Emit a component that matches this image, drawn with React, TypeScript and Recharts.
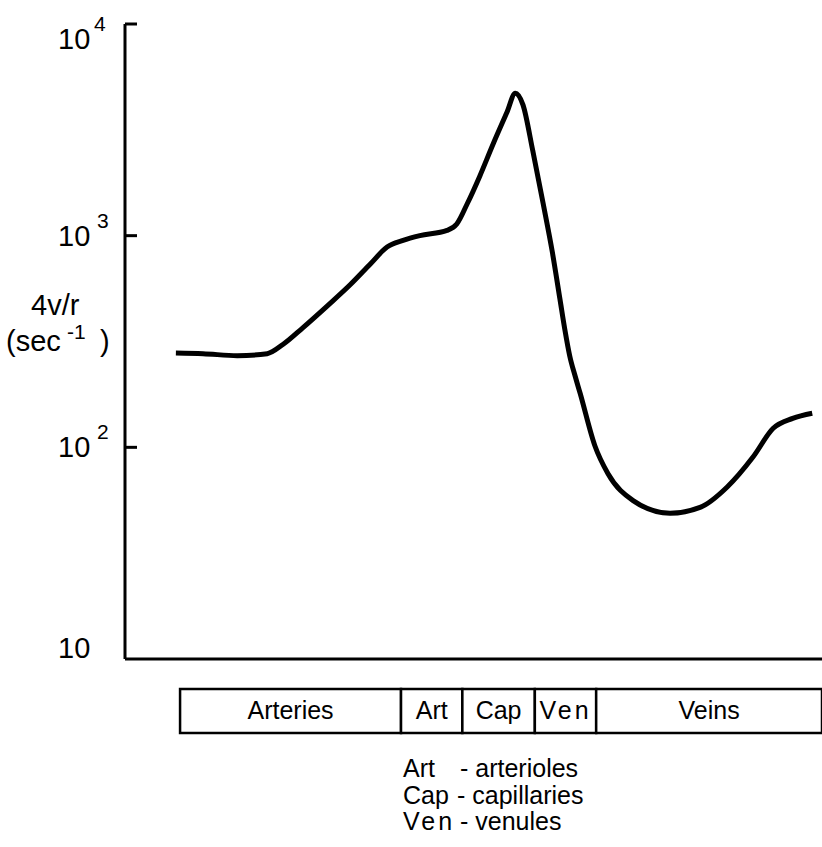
import React from "react";
import {
  LineChart,
  Line,
  XAxis,
  YAxis,
  BarChart,
  Bar,
} from "recharts";

// position along the vascular tree (0 = left axis, 100 = right edge)
const positions = [
  7.3, 11.2, 16.1, 20.4, 22.7, 25.5, 29.0, 32.3, 35.2, 37.6, 39.9, 42.3,
  46.2, 47.6, 49.1, 50.9, 52.8, 54.8, 56.0, 57.1, 58.5, 60.0, 61.3, 62.4,
  63.1, 63.8, 64.6, 65.3, 67.4, 69.3, 72.9, 78.2, 82.5, 86.4, 90.1, 93.0,
  95.8, 98.6,
];
// 4v/r, sec^-1
const rates = [
  279, 277, 271, 277, 307, 367, 465, 586, 735, 884, 950, 1000,
  1059, 1135, 1415, 1911, 2704, 3828, 4713, 4150, 2523, 1415, 840, 502,
  361, 271, 216, 180, 102, 75, 56, 48.8, 52, 65, 90, 123,
  137, 145,
];

const yTicks = [10, 100, 1000, 10000];

// vessel bands under the x axis
const segmentNames = ["", "Arteries", "Art", "Cap", "Ven", "Veins"];
const segmentEdges = [0, 7.9, 39.6, 48.4, 58.8, 67.6, 100];

const notes = [
  ["Art", "- arterioles"],
  ["Cap", "- capillaries"],
  ["Ven", "- venules"],
];

const data = positions.map((x, i) => ({ x, rate: rates[i] }));

const bandRow: Record<string, number | string> = { name: "band" };
segmentNames.forEach((_, i) => {
  bandRow["s" + i] = segmentEdges[i + 1] - segmentEdges[i];
});

const FONT = "'Liberation Sans', Arial, Helvetica, sans-serif";
const AXIS_X = 125;

const LogTick = (props: any) => {
  const { y, payload } = props;
  const v = payload.value;
  const exp = Math.round(Math.log10(v));
  const dy = v === 10000 ? 25 : v === 10 ? -1 : 10;
  const supX = v === 10000 ? 94 : 97;
  return (
    <g>
      {v !== 10 && (
        <line x1={AXIS_X} x2={AXIS_X + 12} y1={y} y2={y} stroke="#000" strokeWidth={3} />
      )}
      <text x={58} y={y + dy} fontSize={29} fill="#000" fontFamily={FONT}>
        10
        {exp > 1 && (
          <tspan x={supX} dy={-18} fontSize={21}>
            {exp}
          </tspan>
        )}
      </text>
    </g>
  );
};

const YTitle = () => (
  <g fontFamily={FONT} fill="#000">
    <text x={31} y={315} fontSize={29}>
      4v/r
    </text>
    <text x={6} y={351} fontSize={29}>
      (sec
      <tspan x={67} dy={-12} fontSize={21}>
        -1
      </tspan>
      <tspan x={100} dy={12} fontSize={29}>
        )
      </tspan>
    </text>
  </g>
);

const bandLabel = (name: string) => (p: any) => {
  if (!name) return null;
  return (
    <text
      x={p.x + p.width / 2}
      y={p.y + p.height / 2 + 8}
      textAnchor="middle"
      fontSize={25}
      fontFamily={FONT}
      letterSpacing={name === "Ven" ? 3 : 0}
      fill="#000"
    >
      {name}
    </text>
  );
};

export default function App() {
  return (
    <div
      style={{
        position: "absolute",
        left: 0,
        top: 0,
        width: 822,
        height: 840,
        background: "#fff",
        fontFamily: FONT,
      }}
    >
      <div style={{ position: "absolute", left: 0, top: 0 }}>
        <LineChart
          width={822}
          height={680}
          data={data}
          margin={{ top: 24, right: 0, bottom: 20, left: AXIS_X - 1 }}
        >
          <XAxis
            type="number"
            dataKey="x"
            domain={[0, 100]}
            height={1}
            tick={false}
            tickLine={false}
            axisLine={{ stroke: "#000", strokeWidth: 3 }}
          />
          <YAxis
            type="number"
            scale="log"
            domain={[10, 10000]}
            ticks={yTicks}
            width={1}
            tickLine={false}
            axisLine={{ stroke: "#000", strokeWidth: 3 }}
            tick={<LogTick />}
            label={{ content: () => <YTitle /> }}
          />
          <Line
            type="monotone"
            dataKey="rate"
            stroke="#000"
            strokeWidth={5}
            dot={false}
            isAnimationActive={false}
          />
        </LineChart>
      </div>

      <div style={{ position: "absolute", left: 0, top: 687 }}>
        <BarChart
          width={822}
          height={48}
          layout="vertical"
          data={[bandRow]}
          margin={{ top: 2, right: 0, bottom: 2, left: AXIS_X }}
          barCategoryGap={0}
        >
          <XAxis type="number" domain={[0, 100]} hide />
          <YAxis type="category" dataKey="name" hide />
          {segmentNames.map((name, i) => (
            <Bar
              key={i}
              dataKey={"s" + i}
              stackId="band"
              fill={name ? "#fff" : "none"}
              stroke={name ? "#000" : "none"}
              strokeWidth={2.5}
              isAnimationActive={false}
              label={bandLabel(name)}
            />
          ))}
        </BarChart>
      </div>

      <svg
        style={{ position: "absolute", left: 0, top: 0 }}
        width={822}
        height={840}
        fontFamily={FONT}
      >
        {notes.map(([abbr, full], i) => (
          <g key={abbr} fontSize={25} fill="#000">
            <text x={403} y={777 + i * 26.5} letterSpacing={abbr === "Ven" ? 3 : 0}>
              {abbr}
            </text>
            <text x={abbr === "Cap" ? 457 : 460} y={777 + i * 26.5}>
              {full}
            </text>
          </g>
        ))}
      </svg>
    </div>
  );
}
